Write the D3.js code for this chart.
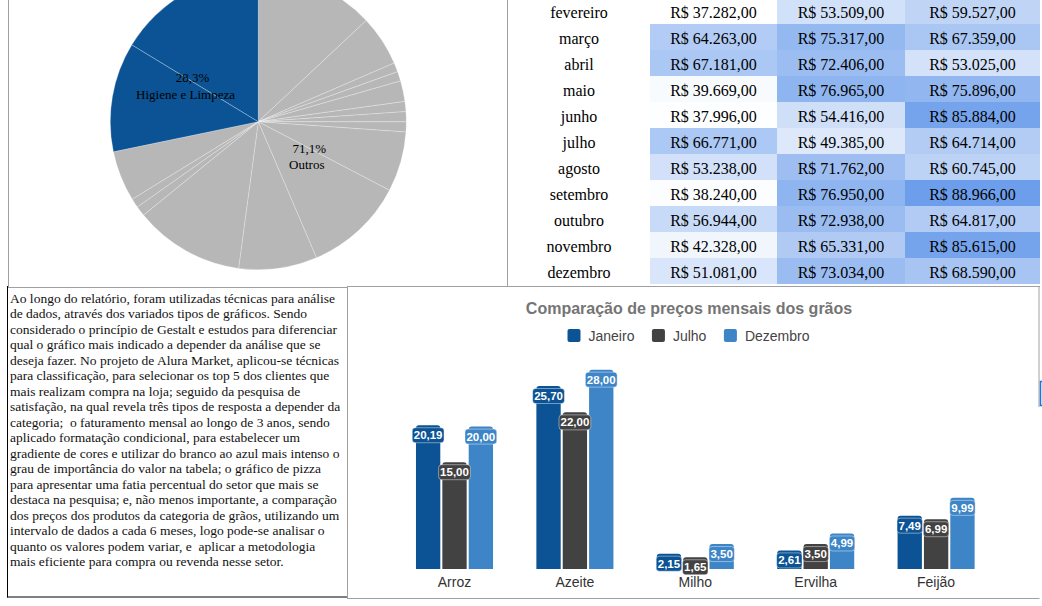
<!DOCTYPE html>
<html><head><meta charset="utf-8">
<script src="https://cdn.jsdelivr.net/npm/d3@7"></script>
<style>body{margin:0;background:#fff;overflow:hidden} svg{display:block}</style>
</head><body>
<svg id="c" width="1042" height="606"></svg>
<script>
// ---------- DATA ----------
// Pie (percent shares, clockwise from 12 o'clock)
const pieValues = [13.0, 5.5, 1.0, 1.05, 2.25, 1.1, 1.1, 1.1, 6.55, 10.9, 8.55, 12.0, 1.1, 1.0, 5.5, 11.95, 16.3];
const pieGroups = ["Outros","Outros","Outros","Outros","Outros","Outros","Outros","Outros","Outros","Outros","Outros","Outros","Outros","Outros","Outros","Higiene e Limpeza","Higiene e Limpeza"];
const pieLabelGroups = ["Higiene e Limpeza", "Outros"];
const pieLabelPct = ["28,3%", "71,1%"];

// Table (faturamento mensal)
const months = ["fevereiro","março","abril","maio","junho","julho","agosto","setembro","outubro","novembro","dezembro"];
const year1 = [37282, 64263, 67181, 39669, 37996, 66771, 53238, 38240, 56944, 42328, 51081];
const year2 = [53509, 75317, 72406, 76965, 54416, 49385, 71762, 76950, 72938, 65331, 73034];
const year3 = [59527, 67359, 53025, 75896, 85884, 64714, 60745, 88966, 64817, 85615, 68590];

// Paragraph
const paragraphLines = [
 "Ao longo do relatório, foram utilizadas técnicas para análise",
 "de dados, através dos variados tipos de gráficos. Sendo",
 "considerado o princípio de Gestalt e estudos para diferenciar",
 "qual o gráfico mais indicado a depender da análise que se",
 "deseja fazer. No projeto de Alura Market, aplicou-se técnicas",
 "para classificação, para selecionar os top 5 dos clientes que",
 "mais realizam compra na loja; seguido da pesquisa de",
 "satisfação, na qual revela três tipos de resposta a depender da",
 "categoria;  o faturamento mensal ao longo de 3 anos, sendo",
 "aplicado formatação condicional, para estabelecer um",
 "gradiente de cores e utilizar do branco ao azul mais intenso o",
 "grau de importância do valor na tabela; o gráfico de pizza",
 "para apresentar uma fatia percentual do setor que mais se",
 "destaca na pesquisa; e, não menos importante, a comparação",
 "dos preços dos produtos da categoria de grãos, utilizando um",
 "intervalo de dados a cada 6 meses, logo pode-se analisar o",
 "quanto os valores podem variar, e  aplicar a metodologia",
 "mais eficiente para compra ou revenda nesse setor."
];

// Bar chart
const barTitle = "Comparação de preços mensais dos grãos";
const products = ["Arroz", "Azeite", "Milho", "Ervilha", "Feijão"];
const seriesNames = ["Janeiro", "Julho", "Dezembro"];
const janeiro = [20.19, 25.70, 2.15, 2.61, 7.49];
const julho = [15.00, 22.00, 1.65, 3.50, 6.99];
const dezembro = [20.00, 28.00, 3.50, 4.99, 9.99];

// ---------- DRAW ----------
const svg = d3.select("#c");
const serif = "'Liberation Serif','Times New Roman',serif";
const sans = "'Liberation Sans',Arial,sans-serif";

// ---- Pie ----
const pcx = 258.3, pcy = 121.7, pr = 148;
const pie = d3.pie().sort(null).value(d => d)(pieValues);
const arc = d3.arc().innerRadius(0).outerRadius(pr);
const pieColor = g => g === "Outros" ? "#b7b7b7" : "#0b5394";
const pg = svg.append("g").attr("transform", `translate(${pcx},${pcy})`);
pg.selectAll("path").data(pie).join("path")
  .attr("d", arc)
  .attr("fill", (d, i) => pieColor(pieGroups[i]))
  .attr("stroke", "rgba(255,255,255,0.32)")
  .attr("stroke-width", 0.8);
const labelPos = {"Higiene e Limpeza": {da: -11.8, r: 78}, "Outros": {da: -4.2, r: 60.7}};
pieLabelGroups.forEach((g, k) => {
  const arcs = pie.filter((d, i) => pieGroups[i] === g);
  const a0 = d3.min(arcs, d => d.startAngle), a1 = d3.max(arcs, d => d.endAngle);
  const mid = (a0 + a1) / 2 + labelPos[g].da * Math.PI / 180;
  const x = Math.sin(mid) * labelPos[g].r, y = -Math.cos(mid) * labelPos[g].r;
  const t = pg.append("text").attr("font-family", serif).attr("font-size", 13)
    .attr("fill", "#000").attr("text-anchor", "middle");
  t.append("tspan").attr("x", x + (g === "Outros" ? 1.3 : 3.5)).attr("y", y - 3.5).text(pieLabelPct[k]);
  t.append("tspan").attr("x", x + (g === "Outros" ? -1.3 : -3.5)).attr("y", y + 13).text(g);
});

// ---- Table ----
const locale = d3.formatLocale({decimal: ",", thousands: ".", grouping: [3], currency: ["R$ ", ""]});
const money = locale.format("$,.2f");
const colEdges = [508, 650, 777, 905, 1040];
const rowY = d3.scaleBand().domain(months).range([-2, 284]);
const allVals = year1.concat(year2, year3);
const heat = d3.scaleLinear().domain([d3.min(allVals), d3.max(allVals)]).range(["#ffffff", "#6d9eeb"]);
const tg = svg.append("g");
[year1, year2, year3].forEach((col, c) => {
  const xa = colEdges[c + 1], xb = colEdges[c + 2];
  tg.selectAll(null).data(col).join("rect")
    .attr("x", xa).attr("y", (d, i) => rowY(months[i]))
    .attr("width", xb - xa).attr("height", rowY.bandwidth())
    .attr("fill", d => heat(d));
  tg.selectAll(null).data(col).join("text")
    .attr("x", (xa + xb) / 2).attr("y", (d, i) => rowY(months[i]) + 19.6)
    .attr("text-anchor", "middle").attr("font-family", serif).attr("font-size", 16)
    .attr("fill", "#000").text(d => money(d));
});
tg.selectAll(null).data(months).join("text")
  .attr("x", (colEdges[0] + colEdges[1]) / 2).attr("y", d => rowY(d) + 19.6)
  .attr("text-anchor", "middle").attr("font-family", serif).attr("font-size", 16)
  .attr("fill", "#000").text(d => d);

// ---- Paragraph ----
const para = svg.append("g");
para.selectAll("text").data(paragraphLines).join("text")
  .attr("x", 10).attr("y", (d, i) => 302.6 + i * 15.52)
  .attr("font-family", serif).attr("font-size", 13.5).attr("fill", "#111")
  .attr("xml:space", "preserve").style("white-space", "pre")
  .text(d => d);

// ---- Bar chart ----
const colors = {"Janeiro": "#0b5394", "Julho": "#424242", "Dezembro": "#3d85c6"};
const seriesData = {"Janeiro": janeiro, "Julho": julho, "Dezembro": dezembro};
const bg = svg.append("g");
bg.append("text").attr("x", 689).attr("y", 314.3).attr("text-anchor", "middle")
  .attr("font-family", sans).attr("font-weight", "bold").attr("font-size", 16)
  .attr("fill", "#757575").text(barTitle);

// legend
const leg = bg.append("g");
const items = leg.selectAll("g").data(seriesNames).join("g");
items.append("rect").attr("width", 13).attr("height", 13).attr("y", 329).attr("rx", 2)
  .attr("fill", d => colors[d]);
items.append("text").attr("x", 21).attr("y", 341).attr("font-family", sans).attr("font-size", 14)
  .attr("fill", "#444").text(d => d);
const widths = [];
items.each(function () { widths.push(d3.select(this).select("text").node().getComputedTextLength()); });
const totalW = d3.sum(widths.map(w => 21 + w)) + 17.5 * (widths.length - 1);
let lx = 688.5 - totalW / 2;
items.each(function (d, i) {
  d3.select(this).attr("transform", `translate(${lx},0)`);
  lx += 21 + widths[i] + 17.5;
});

const x0 = d3.scaleBand().domain(products).range([394.3, 996.3]).paddingInner(0.36).paddingOuter(0.18);
const x1 = d3.scaleBand().domain(seriesNames).range([0, x0.bandwidth()]).paddingInner(0.077);
const y = d3.scaleLinear().domain([0, 30]).range([569, 355.4]);

function topRounded(x, yy, w, h, r) {
  r = Math.min(r, h, w / 2);
  return `M${x},${yy + h}V${yy + r}Q${x},${yy} ${x + r},${yy}H${x + w - r}Q${x + w},${yy} ${x + w},${yy + r}V${yy + h}Z`;
}
const barsData = [];
products.forEach((p, i) => seriesNames.forEach(s => barsData.push({p, s, v: seriesData[s][i]})));
bg.append("g").selectAll("path").data(barsData).join("path")
  .attr("d", d => topRounded(x0(d.p) + x1(d.s), y(d.v), x1.bandwidth(), y(0) - y(d.v), 3))
  .attr("fill", d => colors[d.s]);

const numFmt = locale.format(",.2f");
const lab = bg.append("g");
barsData.forEach(d => {
  const cx = x0(d.p) + x1(d.s) + x1.bandwidth() / 2;
  const cy = y(d.v) + 10;
  const g = lab.append("g");
  const r = g.append("rect");
  const t = g.append("text").attr("x", cx).attr("y", cy + 4).attr("text-anchor", "middle")
    .attr("font-family", sans).attr("font-weight", "bold").attr("font-size", 11.5)
    .attr("fill", "#fff").text(numFmt(d.v));
  const w = t.node().getComputedTextLength() + 3;
  r.attr("x", cx - w / 2).attr("y", cy - 7.5).attr("width", w).attr("height", 15).attr("rx", 3)
    .attr("fill", colors[d.s]).attr("stroke", "rgba(255,255,255,0.55)").attr("stroke-width", 0.8);
});

bg.append("g").selectAll("text").data(products).join("text")
  .attr("x", d => x0(d) + x0.bandwidth() / 2).attr("y", 587)
  .attr("text-anchor", "middle").attr("font-family", sans).attr("font-size", 14)
  .attr("fill", "#333").text(d => d);

// ---- Borders ----
const line = (xa, ya, xb, yb, c, w) => svg.append("line").attr("x1", xa).attr("y1", ya).attr("x2", xb).attr("y2", yb)
  .attr("stroke", c).attr("stroke-width", w || 1);
const gray = "#a0a0a0";
line(8.5, 0, 8.5, 287.5, gray);
line(507.5, 0, 507.5, 286.5, gray);
line(8, 287.5, 347.5, 287.5, gray);
line(347, 286.5, 1040, 286.5, gray);
line(7.5, 286, 7.5, 597.5, "#000");
line(7, 597, 347.5, 597, "#000");
line(347.5, 287, 347.5, 598.5, gray);
line(347, 598.5, 1039.5, 598.5, gray);
line(1039, 286.5, 1039, 407, gray);
svg.append("path").attr("d", "M1042,381.5H1040.5V405.5H1042").attr("fill", "none")
  .attr("stroke", "#1a73e8").attr("stroke-width", 1.5);
</script>
</body></html>
